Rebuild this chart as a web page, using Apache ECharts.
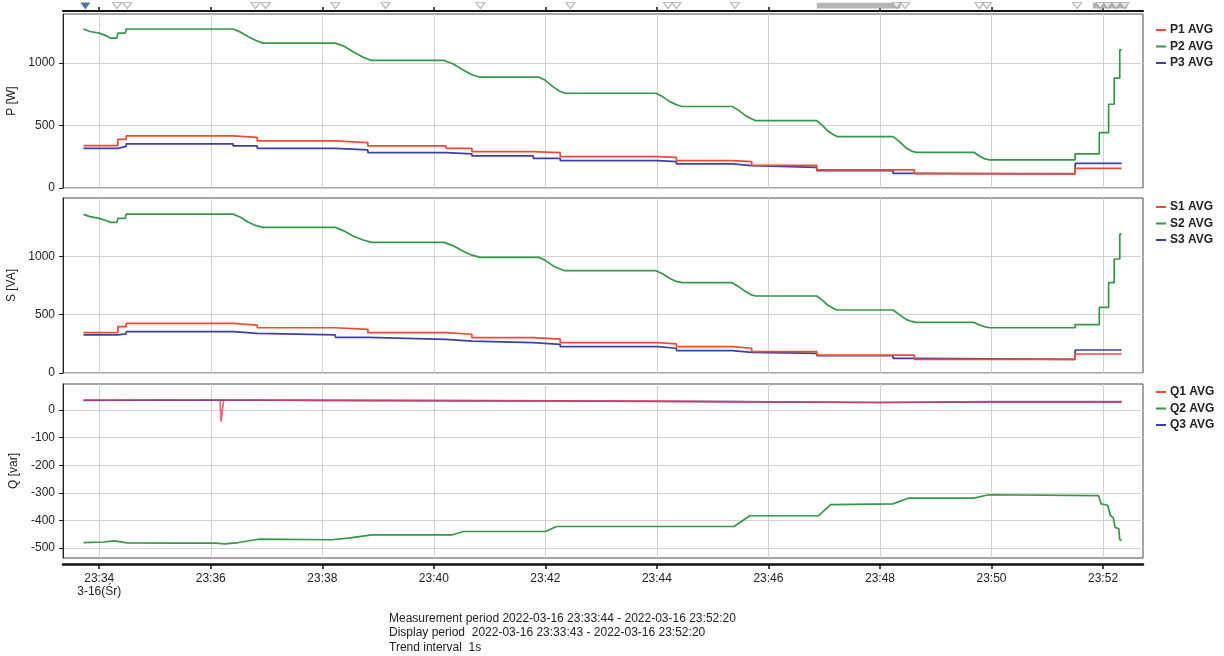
<!DOCTYPE html>
<html><head><meta charset="utf-8">
<script src="https://cdn.jsdelivr.net/npm/echarts@6/dist/echarts.min.js"></script>
<style>html,body{margin:0;padding:0;background:#fff}#c{width:1224px;height:656px}</style>
</head><body><div id="c"></div>
<script>
// ---- data ----
const xTickTimes = ["23:34:00","23:36:00","23:38:00","23:40:00","23:42:00","23:44:00","23:46:00","23:48:00","23:50:00","23:52:00"];
const xRange = ["23:33:21","23:52:43"];
const pTicks = [0, 500, 1000];
const sTicks = [0, 500, 1000];
const qTicks = [-500, -400, -300, -200, -100, 0];
const pRange = [0, 1390];
const sRange = [0, 1500];
const qRange = [-536, 94];

const P1 = [["23:33:43",339],["23:34:20",389],["23:34:29",416],["23:36:24",405],["23:36:50",376],["23:38:14",362],["23:38:49",336],["23:40:13",317],["23:40:41",291],["23:41:47",283],["23:42:16",251],["23:44:01",245],["23:44:21",219],["23:45:21",211],["23:45:42",181],["23:46:52",144],["23:48:37",115],["23:51:30",157],["23:52:20",157]];
const P2 = [["23:33:43",1270],["23:33:50",1250],["23:34:00",1237],["23:34:08",1215],["23:34:12",1198],["23:34:19",1198],["23:34:20",1237],["23:34:28",1237],["23:34:29",1270],["23:36:24",1270],["23:36:32",1245],["23:36:40",1210],["23:36:48",1180],["23:36:56",1157],["23:38:14",1157],["23:38:24",1130],["23:38:34",1085],["23:38:44",1045],["23:38:53",1019],["23:40:11",1019],["23:40:21",990],["23:40:31",945],["23:40:41",905],["23:40:50",885],["23:41:53",885],["23:42:00",860],["23:42:08",810],["23:42:15",775],["23:42:21",757],["23:43:59",757],["23:44:06",730],["23:44:14",690],["23:44:21",665],["23:44:27",651],["23:45:21",651],["23:45:28",620],["23:45:35",580],["23:45:41",555],["23:45:46",539],["23:46:52",539],["23:46:58",500],["23:47:04",455],["23:47:10",425],["23:47:14",411],["23:48:14",411],["23:48:21",370],["23:48:28",320],["23:48:34",295],["23:48:39",285],["23:49:41",285],["23:49:46",260],["23:49:52",235],["23:49:58",224],["23:51:30",224],["23:51:30",272],["23:51:56",272],["23:51:56",442],["23:52:06",442],["23:52:06",669],["23:52:12",669],["23:52:12",877],["23:52:18",877],["23:52:18",1104],["23:52:20",1104]];
const P3 = [["23:33:43",317],["23:34:20",332],["23:34:29",352],["23:36:24",336],["23:36:50",317],["23:38:14",304],["23:38:49",283],["23:40:13",272],["23:40:41",256],["23:41:47",237],["23:42:16",219],["23:44:01",211],["23:44:21",192],["23:45:21",179],["23:45:42",165],["23:46:52",139],["23:48:14",117],["23:48:37",112],["23:51:30",197],["23:52:20",197]];

const S1 = [["23:33:43",346],["23:34:20",397],["23:34:29",426],["23:36:24",411],["23:36:50",388],["23:38:14",374],["23:38:49",346],["23:40:13",332],["23:40:41",303],["23:41:47",291],["23:42:16",260],["23:44:01",249],["23:44:21",226],["23:45:21",212],["23:45:42",183],["23:46:52",154],["23:48:37",117],["23:51:30",163],["23:52:20",163]];
const S2 = [["23:33:43",1360],["23:33:50",1340],["23:34:00",1325],["23:34:08",1305],["23:34:12",1291],["23:34:19",1291],["23:34:20",1325],["23:34:28",1325],["23:34:29",1362],["23:36:24",1362],["23:36:32",1335],["23:36:40",1295],["23:36:48",1265],["23:36:56",1248],["23:38:14",1248],["23:38:24",1215],["23:38:34",1170],["23:38:44",1140],["23:38:53",1120],["23:40:11",1120],["23:40:21",1090],["23:40:31",1045],["23:40:41",1010],["23:40:50",991],["23:41:53",991],["23:42:00",965],["23:42:08",920],["23:42:15",893],["23:42:21",877],["23:43:59",877],["23:44:06",850],["23:44:14",810],["23:44:21",785],["23:44:27",774],["23:45:21",774],["23:45:28",740],["23:45:35",700],["23:45:41",672],["23:45:46",660],["23:46:52",660],["23:46:58",625],["23:47:04",580],["23:47:10",552],["23:47:14",540],["23:48:14",540],["23:48:21",500],["23:48:28",460],["23:48:34",442],["23:48:39",434],["23:49:41",434],["23:49:46",415],["23:49:52",398],["23:49:58",388],["23:51:30",388],["23:51:30",414],["23:51:56",414],["23:51:56",563],["23:52:06",563],["23:52:06",774],["23:52:12",774],["23:52:12",977],["23:52:18",977],["23:52:18",1190],["23:52:20",1190]];
const S3 = [["23:33:43",326],["23:34:20",335],["23:34:29",354],["23:36:24",340],["23:36:50",326],["23:38:14",306],["23:38:49",289],["23:40:13",274],["23:40:41",260],["23:41:47",246],["23:42:16",226],["23:44:01",212],["23:44:21",191],["23:45:21",177],["23:45:42",169],["23:46:52",148],["23:48:14",126],["23:48:37",117],["23:51:30",197],["23:52:20",197]];

const Q1 = [["23:33:43",36],["23:35:00",37],["23:36:10",37],["23:36:11",-42],["23:36:13",-42],["23:36:14",37],["23:38:00",35],["23:40:00",34],["23:42:00",33],["23:44:00",32],["23:46:00",29],["23:48:00",27],["23:50:00",30],["23:52:20",30]];
const Q2 = [["23:33:43",-480],["23:34:05",-478],["23:34:16",-474],["23:34:30",-481],["23:35:30",-482],["23:36:05",-482],["23:36:15",-485],["23:36:30",-480],["23:36:51",-468],["23:38:10",-470],["23:38:30",-463],["23:38:53",-452],["23:40:20",-452],["23:40:32",-440],["23:42:00",-440],["23:42:12",-422],["23:45:23",-422],["23:45:40",-383],["23:46:54",-383],["23:47:07",-343],["23:48:14",-340],["23:48:31",-319],["23:49:41",-319],["23:49:57",-307],["23:51:55",-310],["23:51:58",-340],["23:52:05",-345],["23:52:08",-383],["23:52:11",-390],["23:52:13",-425],["23:52:17",-430],["23:52:18",-470],["23:52:20",-472]];
const Q3 = [["23:33:43",35],["23:36:00",36],["23:38:00",35],["23:40:00",34],["23:42:00",33],["23:44:00",31],["23:46:00",29],["23:48:00",27],["23:50:00",29],["23:52:20",29]];

const startMark = ["23:33:45"];
const eventMarks = ["23:34:19","23:34:30","23:36:48","23:36:59","23:38:14","23:39:08","23:40:50","23:42:27","23:44:12","23:44:21","23:45:24","23:48:18","23:48:27","23:49:47","23:49:55","23:51:32","23:51:57","23:52:05","23:52:14","23:52:23"];
const eventBands = [["23:46:52","23:48:22"],["23:51:49","23:52:26"]];

const footerLines = ["Measurement period 2022-03-16 23:33:44 - 2022-03-16 23:52:20","Display period  2022-03-16 23:33:43 - 2022-03-16 23:52:20","Trend interval  1s"];
const dateLabel = "3-16(Śr)";

// ---- helpers ----
function sec(t){const a=t.split(':').map(Number);return a[0]*3600+a[1]*60+a[2];}
function pts(arr){return arr.map(d=>[sec(d[0]),d[1]]);}
function fmt(v){const h=Math.floor(v/3600),m=Math.floor((v%3600)/60);return h+':'+String(m).padStart(2,'0');}

const FONT = "'Liberation Sans',Arial,sans-serif";
const RED='#ee4a36', GREEN='#35974a', BLUE='#3f3fa8';
const xTicks = xTickTimes.map(sec);
const xMin = sec(xRange[0]), xMax = sec(xRange[1]);
const L = 63, R = 81;
const gridTops = [14, 198, 384];
const gridH = [174, 175, 174];

const grids = gridTops.map((t,i)=>({left:L,right:R,top:t,height:gridH[i],show:true,borderColor:'#4a4a4a',borderWidth:1,backgroundColor:'#fff',outerBoundsMode:'none',containLabel:false}));
grids.push({left:L,right:R,top:2,height:8,show:false,outerBoundsMode:'none'});

function xAx(gi, extra){
  return Object.assign({type:'value',gridIndex:gi,min:xMin,max:xMax,
    axisLine:{show:false,onZero:false},
    axisTick:{show:false,customValues:xTicks},
    axisLabel:{show:false,customValues:xTicks},
    splitLine:{show:true,lineStyle:{color:'#d6d0d0',width:1}}}, extra||{});
}
const xAxes = [
  xAx(0,{position:'top',offset:3,axisLine:{show:true,onZero:false,lineStyle:{color:'#111',width:2}},axisTick:{show:true,customValues:xTicks,length:4,lineStyle:{color:'#111',width:1.5}}}),
  xAx(1),
  xAx(2,{position:'bottom',offset:6,axisLine:{show:true,onZero:false,lineStyle:{color:'#111',width:2.5}},
    axisTick:{show:true,customValues:xTicks,length:5,lineStyle:{color:'#111',width:1.5}},
    axisLabel:{show:true,customValues:xTicks,margin:8,fontSize:12,color:'#222',fontFamily:FONT,lineHeight:13,
      formatter:v=>(v===xTicks[0]?fmt(v)+'\n'+dateLabel:fmt(v))}}),
  {type:'value',gridIndex:3,min:xMin,max:xMax,show:false}
];

function yAx(gi,name,range,ticks){
  return {type:'value',gridIndex:gi,min:range[0],max:range[1],name:name,nameLocation:'middle',nameGap:35,
    nameTextStyle:{fontSize:12,color:'#222',fontFamily:FONT},
    axisLine:{show:true,lineStyle:{color:'#222',width:1}},
    axisTick:{show:true,customValues:ticks,length:4,lineStyle:{color:'#222'}},
    axisLabel:{customValues:ticks,fontSize:12,color:'#222',fontFamily:FONT,margin:8,formatter:v=>String(v)},
    splitLine:{show:true,lineStyle:{color:'#d6d0d0',width:1}}};
}
const yAxes = [yAx(0,'P [W]',pRange,pTicks), yAx(1,'S [VA]',sRange,sTicks), yAx(2,'Q [var]',qRange,qTicks),
  {type:'value',gridIndex:3,min:0,max:1,show:false}];

function line(name,data,color,gi,step,z){
  return {type:'line',name:name,xAxisIndex:gi,yAxisIndex:gi,data:pts(data),step:step?'end':false,
    showSymbol:false,symbol:'none',lineStyle:{color:color,width:1.7},itemStyle:{color:color},z:z||2};
}
const series = [
  line('P1 AVG',P1,RED,0,true,3), line('P2 AVG',P2,GREEN,0,false,2), line('P3 AVG',P3,BLUE,0,true,2),
  line('S1 AVG',S1,RED,1,true,3), line('S2 AVG',S2,GREEN,1,false,2), line('S3 AVG',S3,BLUE,1,true,2),
  line('Q3 AVG',Q3,BLUE,2,false,2), line('Q2 AVG',Q2,GREEN,2,false,2),
  Object.assign(line('Q1 AVG',Q1,RED,2,false,3),{lineStyle:{color:'#e8445a',width:1.7,opacity:0.8}}),
  {type:'scatter',xAxisIndex:3,yAxisIndex:3,data:eventMarks.map(t=>[sec(t),0.55]),symbol:'triangle',symbolRotate:180,symbolSize:[9,6],
    itemStyle:{color:'#f4f4f4',borderColor:'#9a9a9a',borderWidth:1},silent:true,z:3,
    markArea:{silent:true,itemStyle:{color:'#b4b4b4'},data:eventBands.map(b=>[{xAxis:sec(b[0]),yAxis:0.2},{xAxis:sec(b[1]),yAxis:0.9}])}},
  {type:'scatter',xAxisIndex:3,yAxisIndex:3,data:startMark.map(t=>[sec(t),0.5]),symbol:'triangle',symbolRotate:180,symbolSize:[10,7],
    itemStyle:{color:'#1f4fa8'},silent:true,z:4}
];

function legend(names,top){
  return {data:names.map(n=>({name:n,icon:'rect'})),orient:'vertical',left:1151,top:top,itemWidth:10,itemHeight:2,itemGap:4.5,
    textStyle:{fontSize:12,color:'#222',fontFamily:FONT,fontWeight:'bold',padding:[0,0,0,-1]},selectedMode:false};
}

const chart = echarts.init(document.getElementById('c'),null,{renderer:'canvas'});
chart.setOption({
  animation:false,
  backgroundColor:'#fff',
  grid:grids, xAxis:xAxes, yAxis:yAxes, series:series,
  legend:[legend(['P1 AVG','P2 AVG','P3 AVG'],19),legend(['S1 AVG','S2 AVG','S3 AVG'],196),legend(['Q1 AVG','Q2 AVG','Q3 AVG'],381)],
  graphic:[{type:'text',left:389,top:611,style:{text:footerLines.join('\n'),fontSize:12,lineHeight:14.5,fill:'#222',fontFamily:FONT}}]
});
</script></body></html>
